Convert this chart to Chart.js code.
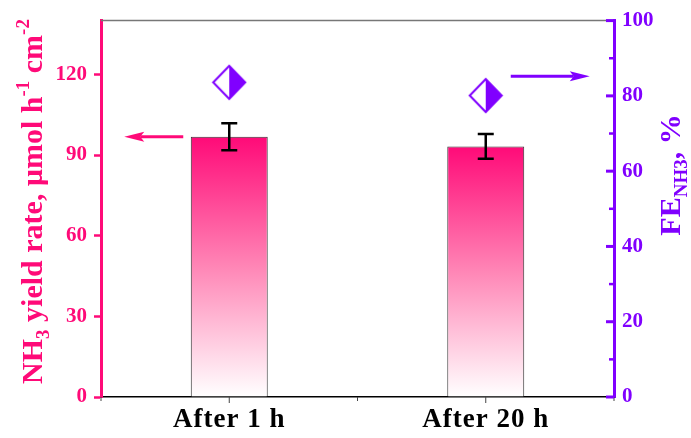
<!DOCTYPE html>
<html>
<head>
<meta charset="utf-8">
<script src="https://cdn.jsdelivr.net/npm/chart.js@4"></script>
<style>
  html, body { margin: 0; padding: 0; background: #ffffff; }
  canvas { display: block; }
</style>
</head>
<body>
<canvas id="c" width="691" height="438"></canvas>
<script>
// NH3 yield rate (left axis) and Faradaic efficiency (right axis) before / after long electrolysis
const categories   = ['After 1 h', 'After 20 h'];
const yieldRate    = [96.8, 93.2];   // µmol h-1 cm-2
const yieldError   = [5.0, 4.6];
const faradaicEff  = [83.6, 80.1];   // %
const yieldTicks   = [0, 30, 60, 90, 120];
const feTicks      = [0, 20, 40, 60, 80, 100];
const feMinorTicks = [10, 30, 50, 70, 90];

const PINK = '#ff0a78';
const PURPLE = '#8000ff';
const SERIF = "'Liberation Serif', 'Times New Roman', serif";

// half-open / half-filled diamond marker
function diamondSprite(w, h) {
  const cv = document.createElement('canvas');
  cv.width = w + 4; cv.height = h + 4;
  const g = cv.getContext('2d');
  const cx = cv.width / 2, cy = cv.height / 2;
  g.fillStyle = '#ffffff';
  g.beginPath();
  g.moveTo(cx, 2); g.lineTo(cv.width - 2, cy); g.lineTo(cx, cv.height - 2); g.lineTo(2, cy); g.closePath();
  g.fill();
  g.fillStyle = PURPLE;
  g.beginPath();
  g.moveTo(cx, 2); g.lineTo(cv.width - 2, cy); g.lineTo(cx, cv.height - 2); g.closePath();
  g.fill();
  g.strokeStyle = PURPLE; g.lineWidth = 2;
  g.beginPath();
  g.moveTo(cx, 2); g.lineTo(cv.width - 2, cy); g.lineTo(cx, cv.height - 2); g.lineTo(2, cy); g.closePath();
  g.stroke();
  return cv;
}

function drawArrow(ctx, xFrom, xTo, y, color) {
  const dir = Math.sign(xTo - xFrom);
  const headLen = 20, headHalf = 5, notch = 4;
  ctx.save();
  ctx.strokeStyle = color; ctx.fillStyle = color; ctx.lineWidth = 3;
  ctx.beginPath();
  ctx.moveTo(xFrom, y); ctx.lineTo(xTo - dir * (headLen - notch), y);
  ctx.stroke();
  ctx.beginPath();
  ctx.moveTo(xTo, y);
  ctx.lineTo(xTo - dir * headLen, y - headHalf);
  ctx.lineTo(xTo - dir * (headLen - notch), y);
  ctx.lineTo(xTo - dir * headLen, y + headHalf);
  ctx.closePath();
  ctx.fill();
  ctx.restore();
}

// rotated text with sub/superscript runs
function drawRotatedRich(ctx, runs, baseX, centerY, size, color) {
  const small = Math.round(size * 0.64);
  ctx.save();
  ctx.fillStyle = color;
  ctx.textBaseline = 'alphabetic';
  ctx.textAlign = 'left';
  let total = 0;
  runs.forEach(r => {
    ctx.font = `bold ${r.s ? small : size}px ${SERIF}`;
    r.w = ctx.measureText(r.t).width;
    total += r.w;
  });
  ctx.translate(baseX, centerY);
  ctx.rotate(-Math.PI / 2);
  let x = -total / 2;
  runs.forEach(r => {
    ctx.font = `bold ${r.s ? small : size}px ${SERIF}`;
    const dy = r.s === 'sub' ? size * 0.22 : (r.s === 'sup' ? -size * 0.42 : 0);
    ctx.fillText(r.t, x, dy);
    x += r.w;
  });
  ctx.restore();
}

const decorPlugin = {
  id: 'decor',
  beforeDraw(chart) {
    const xs = chart.scales.x;
    if (!xs.__spaced) {
      const orig = xs.drawLabels;
      xs.drawLabels = function (area) {
        const c = this.ctx;
        c.save();
        c.letterSpacing = '1px';
        orig.call(this, area);
        c.restore();
      };
      xs.__spaced = true;
    }
  },
  afterDatasetsDraw(chart) {
    const ctx = chart.ctx;
    const ys = chart.scales.y;
    const meta = chart.getDatasetMeta(0);
    ctx.save();
    ctx.strokeStyle = '#000000';
    ctx.lineWidth = 2.5;
    meta.data.forEach((bar, i) => {
      const x = bar.x;
      const yt = ys.getPixelForValue(yieldRate[i] + yieldError[i]);
      const yb = ys.getPixelForValue(yieldRate[i] - yieldError[i]);
      ctx.beginPath();
      ctx.moveTo(x, yt); ctx.lineTo(x, yb);
      ctx.moveTo(x - 8, yt); ctx.lineTo(x + 8, yt);
      ctx.moveTo(x - 8, yb); ctx.lineTo(x + 8, yb);
      ctx.stroke();
    });
    ctx.restore();
  },
  afterDraw(chart) {
    const ctx = chart.ctx;
    const a = chart.chartArea;
    const xs = chart.scales.x, ys = chart.scales.y, y1 = chart.scales.y1;

    // top frame line
    ctx.save();
    ctx.strokeStyle = '#777777'; ctx.lineWidth = 1.5;
    ctx.beginPath(); ctx.moveTo(a.left, a.top); ctx.lineTo(a.right, a.top); ctx.stroke();

    // x-axis ticks at centres and category boundaries
    ctx.strokeStyle = '#444444'; ctx.lineWidth = 1;
    const half = (xs.getPixelForValue(1) - xs.getPixelForValue(0)) / 2;
    categories.forEach((_, i) => {
      const c = xs.getPixelForValue(i);
      ctx.beginPath(); ctx.moveTo(c, a.bottom); ctx.lineTo(c, a.bottom + 6); ctx.stroke();
      [c - half, c + half].forEach(b => {
        ctx.beginPath(); ctx.moveTo(b, a.bottom); ctx.lineTo(b, a.bottom + 4); ctx.stroke();
      });
    });

    // right axis inward ticks
    ctx.strokeStyle = PURPLE; ctx.lineWidth = 3;
    feTicks.forEach(v => {
      const y = y1.getPixelForValue(v);
      ctx.beginPath(); ctx.moveTo(a.right - 8, y); ctx.lineTo(a.right, y); ctx.stroke();
    });
    ctx.lineWidth = 2.5;
    feMinorTicks.forEach(v => {
      const y = y1.getPixelForValue(v);
      ctx.beginPath(); ctx.moveTo(a.right - 5, y); ctx.lineTo(a.right, y); ctx.stroke();
    });
    ctx.restore();

    // arrows pointing to each axis
    const c0 = xs.getPixelForValue(0), c1 = xs.getPixelForValue(1);
    drawArrow(ctx, c0 - 46, c0 - 105, ys.getPixelForValue(yieldRate[0]), PINK);
    drawArrow(ctx, c1 + 25, c1 + 104, y1.getPixelForValue(85.2), PURPLE);

    // axis titles
    drawRotatedRich(ctx, [
      { t: 'NH' }, { t: '3', s: 'sub' }, { t: ' yield rate, \u03bcmol h' },
      { t: '-1', s: 'sup' }, { t: ' cm' }, { t: '-2', s: 'sup' }
    ], 42, 201.5, 30, PINK);
    drawRotatedRich(ctx, [
      { t: 'FE' }, { t: 'NH3', s: 'sub' }, { t: ', %' }
    ], 680, 175, 30, PURPLE);
  }
};

const diamond = diamondSprite(32, 33);

new Chart(document.getElementById('c'), {
  type: 'bar',
  data: {
    labels: categories,
    datasets: [
      {
        label: 'NH3 yield rate',
        data: yieldRate,
        yAxisID: 'y',
        backgroundColor(context) {
          const chart = context.chart;
          const a = chart.chartArea;
          if (!a) return PINK;
          const top = chart.scales.y.getPixelForValue(context.raw);
          const g = chart.ctx.createLinearGradient(0, top, 0, a.bottom);
          g.addColorStop(0, '#ff0a78');
          g.addColorStop(0.5, '#ff86b6');
          g.addColorStop(1, '#ffffff');
          return g;
        },
        borderColor: '#333333',
        borderWidth: 1,
        barPercentage: 0.3,
        categoryPercentage: 1.0,
        order: 2
      },
      {
        type: 'line',
        label: 'FE',
        data: faradaicEff,
        yAxisID: 'y1',
        showLine: false,
        pointStyle: diamond,
        pointRadius: 16,
        order: 1
      }
    ]
  },
  options: {
    responsive: false,
    animation: false,
    layout: { padding: { top: 20, bottom: 0, left: 0, right: 0 } },
    plugins: { legend: { display: false }, tooltip: { enabled: false } },
    scales: {
      x: {
        type: 'category',
        offset: true,
        grid: { display: false, drawTicks: false },
        border: { display: true, color: '#000000', width: 1.5 },
        ticks: {
          color: '#000000',
          padding: 7,
          font: { family: SERIF, size: 27, weight: 'bold' }
        },
        afterFit(s) { s.height = 41; }
      },
      y: {
        position: 'left',
        min: 0, max: 140,
        afterBuildTicks(s) { s.ticks = yieldTicks.map(v => ({ value: v })); },
        grid: { drawOnChartArea: false, drawTicks: true, tickLength: 7, tickColor: PINK, tickWidth: 2.5 },
        border: { display: true, color: PINK, width: 3 },
        ticks: {
          color: PINK,
          padding: 7,
          font: { family: SERIF, size: 21, weight: 'bold' }
        },
        afterFit(s) { s.width = 101; }
      },
      y1: {
        position: 'right',
        min: 0, max: 100,
        afterBuildTicks(s) { s.ticks = feTicks.map(v => ({ value: v })); },
        grid: { drawOnChartArea: false, drawTicks: false },
        border: { display: true, color: PURPLE, width: 3 },
        ticks: {
          color: PURPLE,
          padding: 8,
          font: { family: SERIF, size: 21, weight: 'bold' }
        },
        afterFit(s) { s.width = 77; }
      }
    }
  },
  plugins: [decorPlugin]
});
</script>
</body>
</html>
